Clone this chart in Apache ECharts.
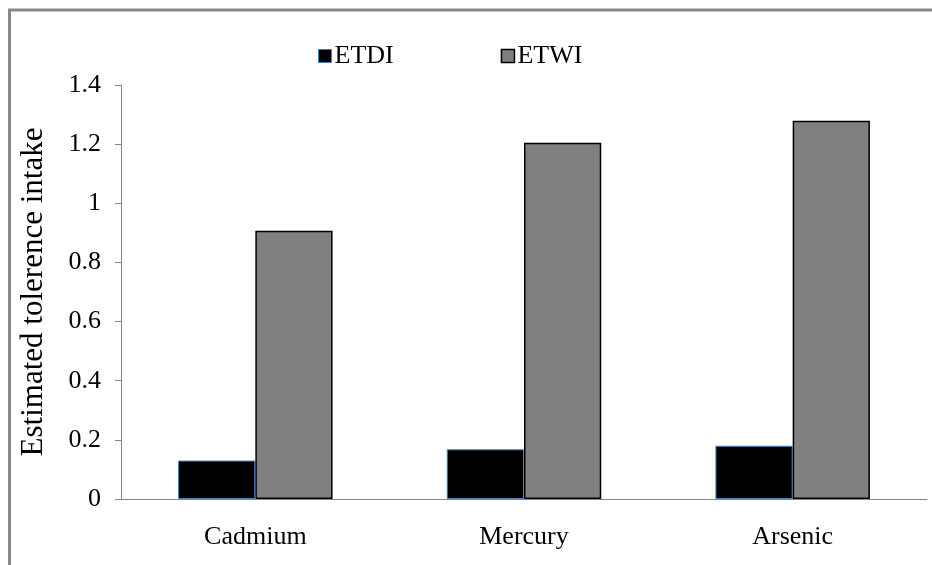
<!DOCTYPE html>
<html>
<head>
<meta charset="utf-8">
<script src="https://cdn.jsdelivr.net/npm/echarts@6/dist/echarts.min.js"></script>
<style>
  html, body { margin: 0; padding: 0; background: #fff; }
  #chart { width: 932px; height: 565px; }
</style>
</head>
<body>
<div id="chart"></div>
<script>
// Estimated daily / weekly tolerance intake of heavy metals
const categories = ['Cadmium', 'Mercury', 'Arsenic'];
const seriesNames = ['ETDI', 'ETWI'];
const etdiValues = [0.13, 0.168, 0.18];
const etwiValues = [0.907, 1.205, 1.279];
const yTicks = { min: 0, max: 1.4, interval: 0.2 };

const serif = '"Liberation Serif", "Times New Roman", serif';

const chart = echarts.init(document.getElementById('chart'), null, { renderer: 'canvas' });

chart.setOption({
  backgroundColor: '#ffffff',
  animation: false,
  graphic: [{
    type: 'rect',
    silent: true,
    shape: { x: 9.5, y: 10, width: 1000, height: 1000 },
    style: { fill: 'none', stroke: '#888888', lineWidth: 3 }
  }],
  legend: {
    left: 313,
    top: 38,
    icon: 'rect',
    itemWidth: 13,
    itemHeight: 13,
    itemGap: 107,
    textStyle: { fontFamily: serif, fontSize: 26, color: '#000', padding: [0, 0, 0, -2] },
    data: [
      { name: seriesNames[0], itemStyle: { color: '#000', borderColor: '#4a7ebb', borderWidth: 1 } },
      { name: seriesNames[1], itemStyle: { color: '#808080', borderColor: '#000', borderWidth: 1.5 } }
    ]
  },
  grid: { left: 121, right: 5, top: 85, bottom: 66, containLabel: false },
  xAxis: {
    type: 'category',
    data: categories,
    axisLine: { lineStyle: { color: '#868686', width: 1 } },
    axisTick: { show: false },
    axisLabel: { fontFamily: serif, fontSize: 26, color: '#000', margin: 25 }
  },
  yAxis: {
    type: 'value',
    min: yTicks.min,
    max: yTicks.max,
    interval: yTicks.interval,
    name: 'Estimated tolerence intake',
    nameLocation: 'middle',
    nameGap: 72,
    nameTextStyle: { fontFamily: serif, fontSize: 31, color: '#000' },
    axisLine: { show: true, lineStyle: { color: '#868686', width: 1 } },
    axisTick: { show: true, length: 6, lineStyle: { color: '#868686' } },
    splitLine: { show: false },
    axisLabel: {
      fontFamily: serif, fontSize: 26, color: '#000', margin: 20,
      formatter: v => String(Math.round(v * 10) / 10)
    }
  },
  series: [
    {
      name: seriesNames[0],
      type: 'bar',
      data: etdiValues,
      barGap: '0%',
      barCategoryGap: '42.5%',
      itemStyle: { color: '#000', borderColor: '#4a7ebb', borderWidth: 1 }
    },
    {
      name: seriesNames[1],
      type: 'bar',
      data: etwiValues,
      barGap: '0%',
      barCategoryGap: '42.5%',
      itemStyle: { color: '#808080', borderColor: '#000', borderWidth: 1.5 }
    }
  ]
});
</script>
</body>
</html>
